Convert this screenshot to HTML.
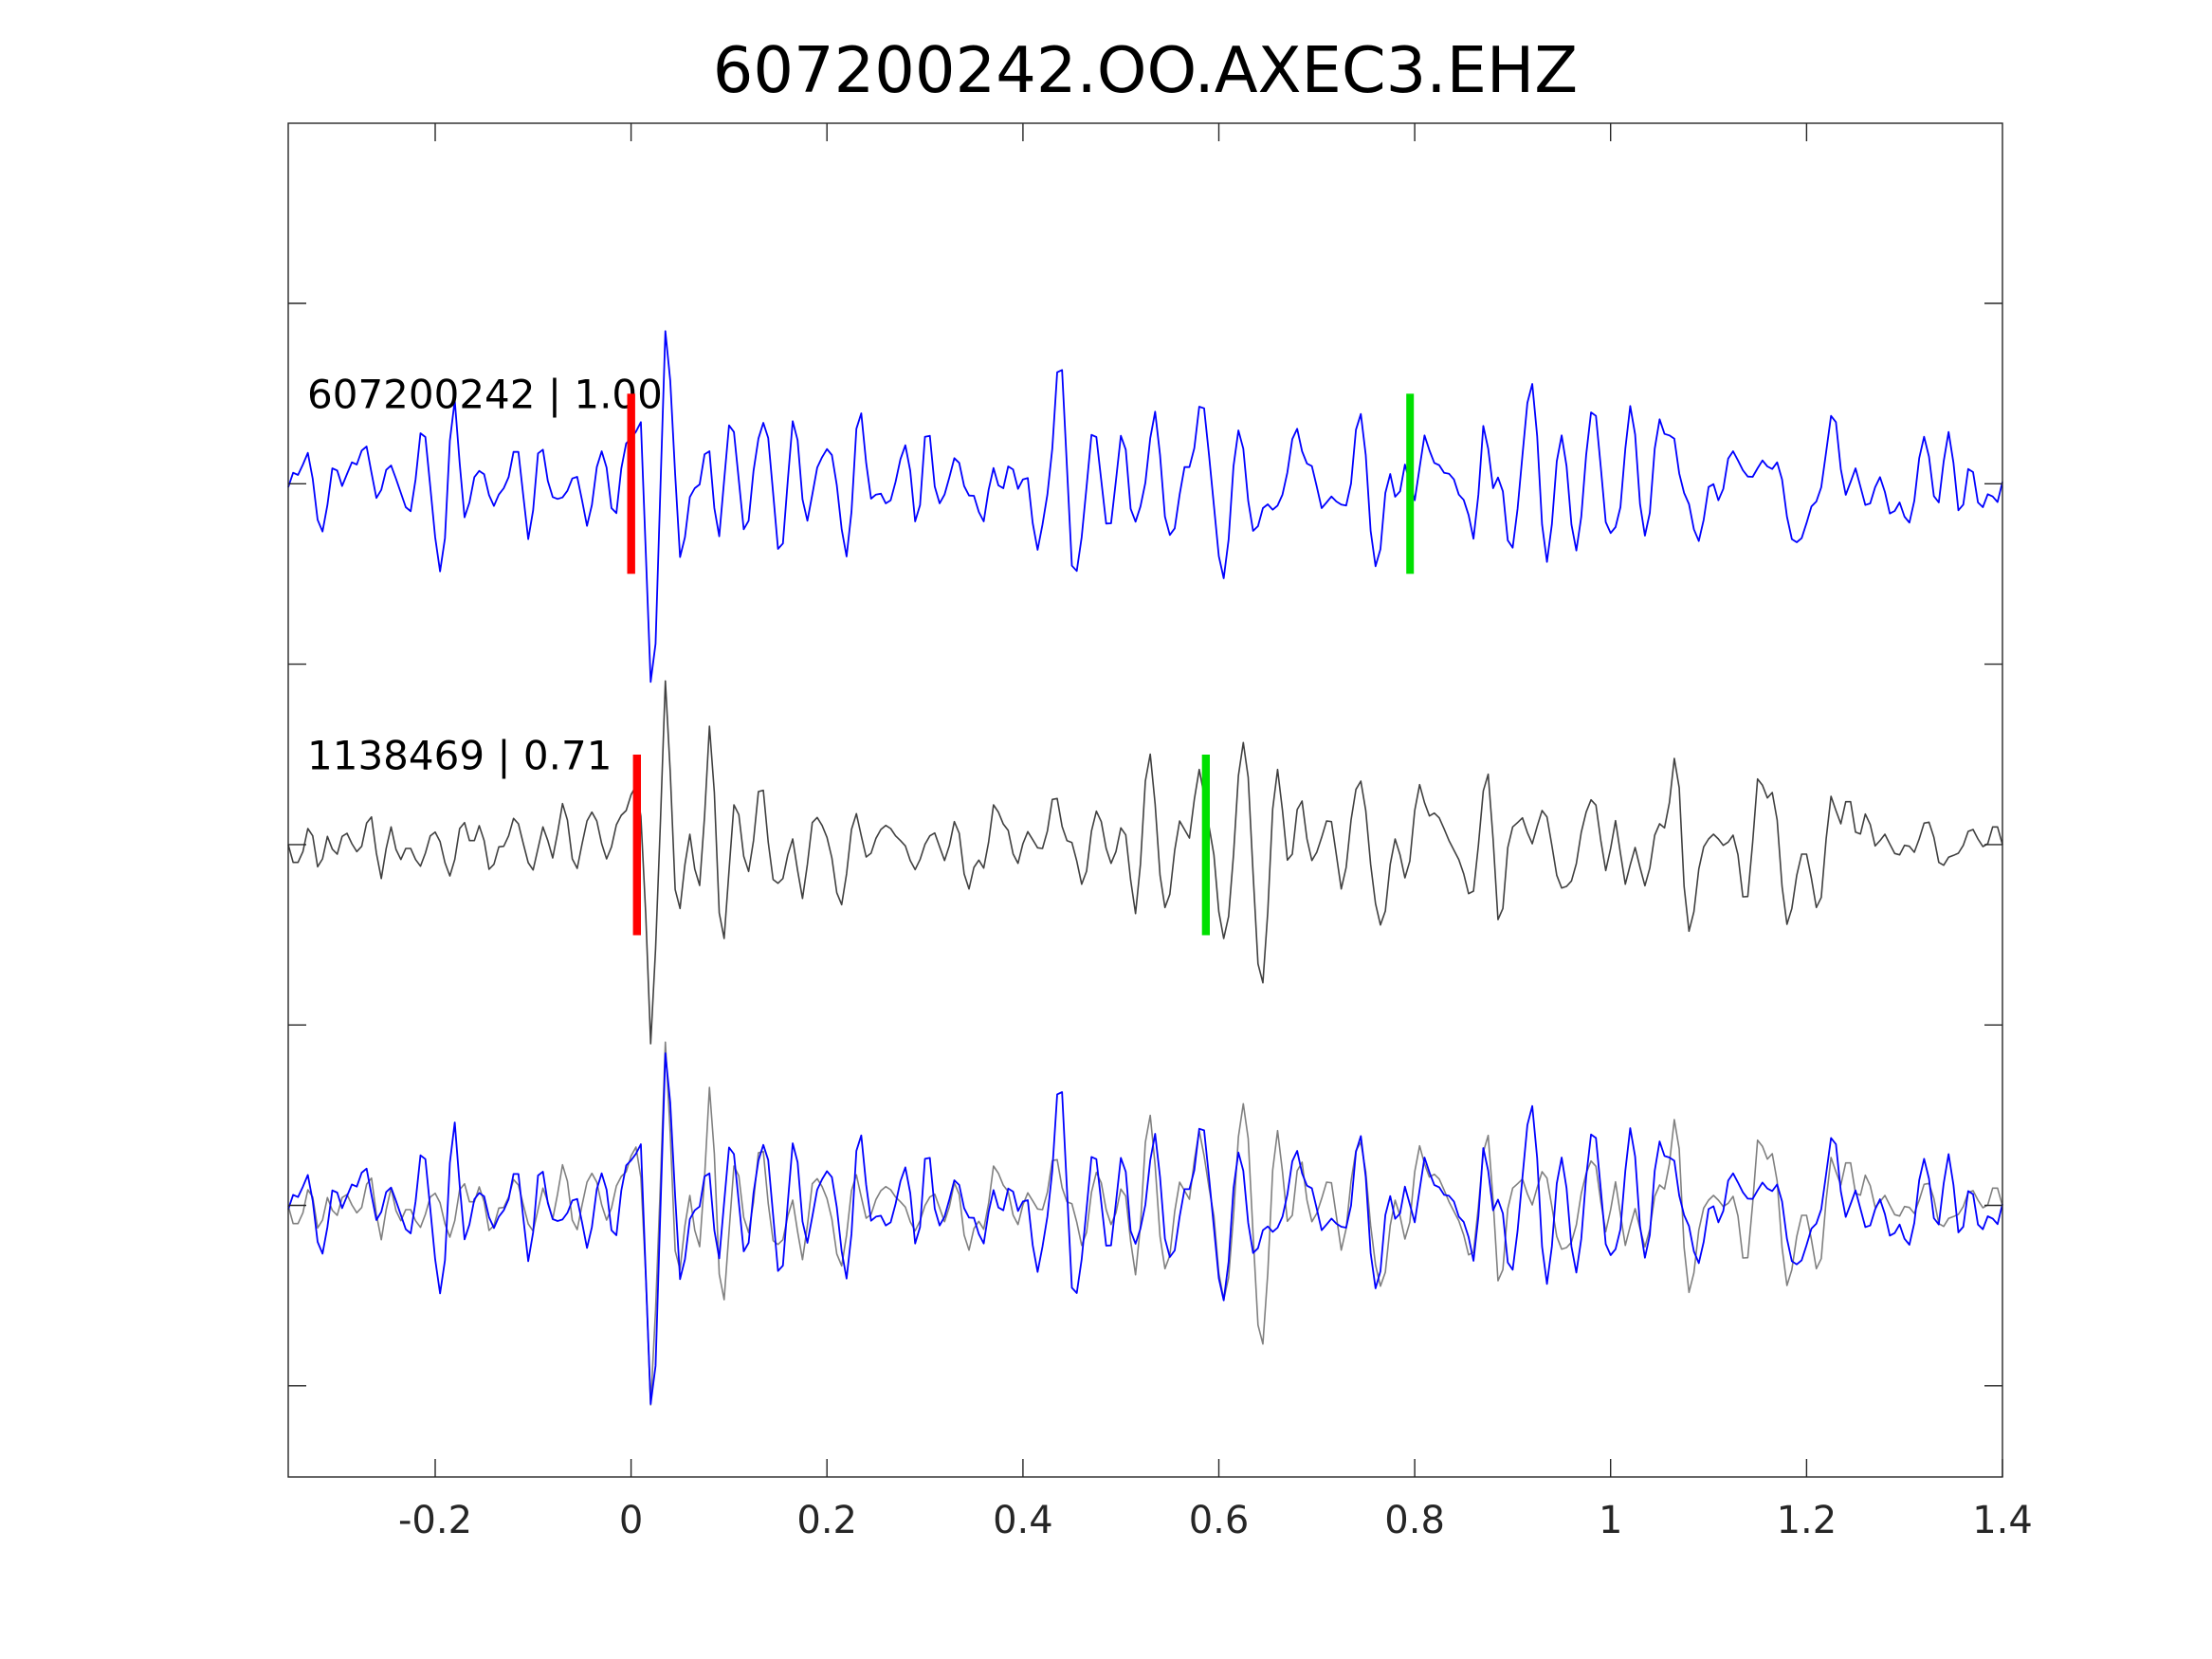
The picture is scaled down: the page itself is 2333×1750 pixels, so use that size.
<!DOCTYPE html>
<html>
<head>
<meta charset="utf-8">
<style>
html,body{margin:0;padding:0;background:#fff;}
svg{display:block;}
text{font-family:"DejaVu Sans","Liberation Sans",sans-serif;}
</style>
</head>
<body>
<svg width="2333" height="1750" viewBox="0 0 2333 1750" xmlns="http://www.w3.org/2000/svg">
<rect x="0" y="0" width="2333" height="1750" fill="#ffffff"/>
<text x="1208" y="97" font-size="67" text-anchor="middle" fill="#000">607200242.OO.AXEC3.EHZ</text>

<!-- trace 1 (blue) -->
<polyline fill="none" stroke="#0000ff" stroke-width="1.8" stroke-linejoin="round" vector-effect="non-scaling-stroke" transform="translate(304,510.3) scale(5.16571,1)" points="0,3.7 1,-11.6 2,-9.3 3,-20.3 4,-32.6 5,-5.3 6,38 7,50.4 8,22.4 9,-16.3 10,-14 11,2.4 12,-10.3 13,-22.6 14,-20.3 15,-35 16,-39.3 17,-11.6 18,15 19,6.4 20,-14.6 21,-19.3 22,-5.3 23,9.7 24,24.7 25,29 26,-4.6 27,-53.3 28,-49.3 29,3 30,56.4 31,92.4 32,57.4 33,-45.3 34,-88 35,-22 36,35.4 37,19.7 38,-7 39,-13.6 40,-10 41,12 42,23.4 43,11.4 44,4.7 45,-7 46,-33.6 47,-33.6 48,13 49,58.4 50,28 51,-32 52,-36 53,-3 54,14 55,16 56,14.4 57,7.4 58,-5.6 59,-7.3 60,17.7 61,44.4 62,22.4 63,-17.6 64,-34.3 65,-17 66,25.7 67,31 68,-16 69,-42.6 70,-48 71,-55 72,-65 73,72 74,209 75,168.7 76,3 77,-161 78,-108.6 79,-10 80,77.3 81,56.4 82,14 83,4.7 84,0.7 85,-31 86,-34.3 87,25.7 88,55.4 89,-3.6 90,-61.6 91,-54.6 92,-3.6 93,48 94,39 95,-13.6 96,-47.6 97,-64.3 98,-48.3 99,9.7 100,68.7 101,63 102,-3.6 103,-66 104,-46 105,16.4 106,39 107,11.4 108,-17 109,-28 110,-36.6 111,-30.3 112,1.4 113,48 114,76.7 115,29.7 116,-58 117,-74.3 118,-22 119,15.7 120,11.4 121,10.4 122,20.7 123,17.4 124,-2 125,-26 126,-40.6 127,-13.6 128,39.7 129,22.4 130,-49.6 131,-50.6 132,3 133,20.7 134,11.4 135,-7 136,-27 137,-22 138,2.4 139,12.4 140,12.7 141,29.7 142,39.7 143,6.4 144,-16.6 145,1.7 146,4.7 147,-18.3 148,-15 149,5.4 150,-4.6 151,-6 152,41.4 153,69.7 154,43 155,11.4 156,-37 157,-117.6 158,-120 159,-17 160,86.4 161,92 162,56.4 163,3 164,-51.6 165,-49.3 166,-3.6 167,42 168,41.7 169,-3.6 170,-50.6 171,-36 172,26.4 173,40 174,24 175,-1 176,-48 177,-76 178,-30.3 179,34.7 180,54 181,47 182,11.4 183,-17.6 184,-17.6 185,-37.6 186,-81.3 187,-79.6 188,-30.3 189,23 190,76.4 191,99.7 192,59 193,-18.6 194,-56.3 195,-37 196,18 197,49.7 198,44.7 199,25.7 200,21.7 201,27.4 202,23 203,11.4 204,-12 205,-47 206,-58 207,-34.3 208,-21.3 209,-18.6 210,3 211,25.7 212,19.7 213,13.4 214,18.7 215,22 216,23 217,-0.3 218,-57 219,-73.6 220,-30.3 221,49.7 222,87 223,69 224,9.7 225,-10.3 226,13.7 227,8 228,-20.3 229,-1.6 230,17.4 231,-17 232,-51 233,-35.3 234,-22 235,-19.6 236,-11.6 237,-10.6 238,-4.6 239,11.4 240,17 241,33 242,58 243,11.4 244,-61 245,-37 246,4.7 247,-6.6 248,8 249,59.7 250,67.4 251,26.4 252,-30.3 253,-85.3 254,-105.3 255,-50.3 256,43 257,82.4 258,43 259,-23.6 260,-51 261,-18.6 262,43 263,70.4 264,35 265,-30.3 266,-75.3 267,-71.6 268,-17 269,40.4 270,52 271,45.7 272,24.7 273,-37 274,-82 275,-52 276,21.4 277,54.7 278,30.7 279,-37 280,-68 281,-52.6 282,-51 283,-47.6 284,-11 285,9.7 286,21.4 287,48 288,60.4 289,38 290,3.4 291,0.4 292,17.4 293,5.4 294,-26.6 295,-34.3 296,-24.6 297,-14.3 298,-7.6 299,-7.3 300,-16.3 301,-24.6 302,-18.3 303,-15.6 304,-22.6 305,-4.6 306,34.7 307,58.4 308,61.7 309,57.4 310,41.4 311,24 312,18.7 313,3.7 314,-33.6 315,-71.6 316,-65 317,-15.3 318,11.7 319,-2 320,-16.3 321,3 322,22.4 323,20.7 324,3.7 325,-7 326,8.7 327,31.4 328,28.7 329,19.7 330,34.7 331,41 332,18 333,-27 334,-49.6 335,-28.6 336,13 337,19.7 338,-23.6 339,-54.6 340,-22 341,28 342,22 343,-15.6 344,-12.3 345,19.7 346,24.7 347,11 348,13.4 349,19.3 350,-2"/>

<!-- trace 2 (dark gray) -->
<polyline fill="none" stroke="#404040" stroke-width="1.6" stroke-linejoin="round" vector-effect="non-scaling-stroke" transform="translate(304,891) scale(5.16571,1)" points="0,0 1,18.7 2,18.7 3,7.3 4,-17 5,-9.3 6,23.3 7,15 8,-8.7 9,4.7 10,10 11,-8.7 12,-12 13,-1 14,7.3 15,1.7 16,-22.7 17,-29.3 18,9 19,35.7 20,4 21,-18.7 22,5 23,15.7 24,4 25,4 26,15.7 27,22.7 28,9 29,-9.3 30,-13.3 31,-3.3 32,19 33,33 34,15.7 35,-17 36,-23.3 37,-4.3 38,-4.3 39,-20 40,-4.3 41,26 42,20.7 43,2.3 44,1.7 45,-9.3 46,-27.7 47,-22 48,-1 49,19 50,26.7 51,4 52,-18.7 53,-4.3 54,14 55,-12.7 56,-43.3 57,-26 58,15 59,25 60,-1 61,-25 62,-34.3 63,-25 64,-1 65,15 66,2.3 67,-21 68,-31 69,-36 70,-52.7 71,-62 72,-30 73,74 74,210 75,110 76,-25 77,-172.7 78,-76 79,47.3 80,67.3 81,20.7 82,-11 83,25.7 84,43 85,-29.7 86,-125 87,-55 88,72 89,99 90,27.3 91,-42 92,-31.7 93,12.3 94,28.3 95,-4.3 96,-56 97,-57.3 98,-2.7 99,36.7 100,40.7 101,35.7 102,10.7 103,-6 104,27.3 105,56.7 106,20.7 107,-23.3 108,-28.7 109,-20.3 110,-7.7 111,14 112,50.7 113,63.3 114,30.7 115,-16 116,-32.7 117,-9.3 118,13 119,9 120,-6.7 121,-16 122,-20.3 123,-17 124,-9.3 125,-4.3 126,1.3 127,16.7 128,26.3 129,15.7 130,-0.3 131,-9.3 132,-12.3 133,2.3 134,16.7 135,0.7 136,-24.3 137,-12 138,30.7 139,46.7 140,24 141,16.3 142,24.7 143,-2.7 144,-42 145,-34.3 146,-21.7 147,-15 148,9.7 149,19.7 150,-1 151,-13.7 152,-5.3 153,3.3 154,4 155,-14.3 156,-47.7 157,-48.7 158,-19.3 159,-4.3 160,-2.3 161,17.3 162,41.7 163,28 164,-14.3 165,-35.3 166,-24.3 167,4 168,19.7 169,7.3 170,-17.7 171,-10.3 172,37.3 173,72.7 174,20.7 175,-67 176,-95.5 177,-42.7 178,32.3 179,66.3 180,52.3 181,5.7 182,-25 183,-16 184,-7 185,-47.7 186,-79.3 187,-52.7 188,-19.3 189,10.7 190,70.7 191,99 192,75.7 193,10.7 194,-72.7 195,-107.7 196,-71 197,30.7 198,125.7 199,145.7 200,70.7 201,-37.7 202,-79.3 203,-36 204,16.3 205,10 206,-37 207,-46 208,-6 209,16.7 210,8 211,-7.7 212,-25 213,-24.3 214,10.7 215,46.7 216,24 217,-26 218,-58.3 219,-67 220,-36 221,20.7 222,62.3 223,84.7 224,70 225,20.7 226,-6 227,10.7 228,35 229,17.3 230,-36 231,-63.3 232,-44.3 233,-30.3 234,-33.3 235,-28.3 236,-16.7 237,-4.3 238,5.7 239,15.7 240,30.7 241,51.7 242,49 243,0.7 244,-56.7 245,-74.3 246,-6 247,79 248,67.3 249,3 250,-18.7 251,-23.3 252,-28.3 253,-12.7 254,-1 255,-19.3 256,-36 257,-29.3 258,0.7 259,32.3 260,45.7 261,44 262,38.3 263,20 264,-13 265,-34.3 266,-47.3 267,-41.7 268,-4.3 269,27.3 270,4 271,-25.3 272,9 273,41.7 274,21.3 275,3 276,24 277,43.3 278,24.7 279,-10 280,-22 281,-17.7 282,-44.3 283,-91 284,-60 285,44 286,91.3 287,70.7 288,25.7 289,2.3 290,-6 291,-11 292,-6 293,0.7 294,-2.7 295,-10 296,10.7 297,55 298,54.7 299,-2.7 300,-69.3 301,-62.7 302,-49.3 303,-55 304,-26 305,44 306,84 307,67.3 308,32.3 309,10 310,10 311,35.7 312,66.3 313,55.7 314,-6 315,-51 316,-36 317,-22 318,-45.3 319,-45.3 320,-13.3 321,-11.3 322,-32.3 323,-21.3 324,1.3 325,-4.3 326,-11 327,-0.7 328,9.3 329,10.7 330,0.7 331,1.7 332,8 333,-6 334,-22.7 335,-23.7 336,-7.7 337,18.7 338,21.7 339,13.3 340,11.3 341,9 342,0.7 343,-14 344,-16 345,-6 346,2 347,-1 348,-18.7 349,-18.7 350,0"/>

<!-- trace 3 overlay: gray (trace 2) -->
<polyline fill="none" stroke="#808080" stroke-width="1.6" stroke-linejoin="round" vector-effect="non-scaling-stroke" transform="translate(304,1272) scale(5.16571,1)" points="0,0 1,18.7 2,18.7 3,7.3 4,-17 5,-9.3 6,23.3 7,15 8,-8.7 9,4.7 10,10 11,-8.7 12,-12 13,-1 14,7.3 15,1.7 16,-22.7 17,-29.3 18,9 19,35.7 20,4 21,-18.7 22,5 23,15.7 24,4 25,4 26,15.7 27,22.7 28,9 29,-9.3 30,-13.3 31,-3.3 32,19 33,33 34,15.7 35,-17 36,-23.3 37,-4.3 38,-4.3 39,-20 40,-4.3 41,26 42,20.7 43,2.3 44,1.7 45,-9.3 46,-27.7 47,-22 48,-1 49,19 50,26.7 51,4 52,-18.7 53,-4.3 54,14 55,-12.7 56,-43.3 57,-26 58,15 59,25 60,-1 61,-25 62,-34.3 63,-25 64,-1 65,15 66,2.3 67,-21 68,-31 69,-36 70,-52.7 71,-62 72,-30 73,74 74,210 75,110 76,-25 77,-172.7 78,-76 79,47.3 80,67.3 81,20.7 82,-11 83,25.7 84,43 85,-29.7 86,-125 87,-55 88,72 89,99 90,27.3 91,-42 92,-31.7 93,12.3 94,28.3 95,-4.3 96,-56 97,-57.3 98,-2.7 99,36.7 100,40.7 101,35.7 102,10.7 103,-6 104,27.3 105,56.7 106,20.7 107,-23.3 108,-28.7 109,-20.3 110,-7.7 111,14 112,50.7 113,63.3 114,30.7 115,-16 116,-32.7 117,-9.3 118,13 119,9 120,-6.7 121,-16 122,-20.3 123,-17 124,-9.3 125,-4.3 126,1.3 127,16.7 128,26.3 129,15.7 130,-0.3 131,-9.3 132,-12.3 133,2.3 134,16.7 135,0.7 136,-24.3 137,-12 138,30.7 139,46.7 140,24 141,16.3 142,24.7 143,-2.7 144,-42 145,-34.3 146,-21.7 147,-15 148,9.7 149,19.7 150,-1 151,-13.7 152,-5.3 153,3.3 154,4 155,-14.3 156,-47.7 157,-48.7 158,-19.3 159,-4.3 160,-2.3 161,17.3 162,41.7 163,28 164,-14.3 165,-35.3 166,-24.3 167,4 168,19.7 169,7.3 170,-17.7 171,-10.3 172,37.3 173,72.7 174,20.7 175,-67 176,-95.5 177,-42.7 178,32.3 179,66.3 180,52.3 181,5.7 182,-25 183,-16 184,-7 185,-47.7 186,-79.3 187,-52.7 188,-19.3 189,10.7 190,70.7 191,99 192,75.7 193,10.7 194,-72.7 195,-107.7 196,-71 197,30.7 198,125.7 199,145.7 200,70.7 201,-37.7 202,-79.3 203,-36 204,16.3 205,10 206,-37 207,-46 208,-6 209,16.7 210,8 211,-7.7 212,-25 213,-24.3 214,10.7 215,46.7 216,24 217,-26 218,-58.3 219,-67 220,-36 221,20.7 222,62.3 223,84.7 224,70 225,20.7 226,-6 227,10.7 228,35 229,17.3 230,-36 231,-63.3 232,-44.3 233,-30.3 234,-33.3 235,-28.3 236,-16.7 237,-4.3 238,5.7 239,15.7 240,30.7 241,51.7 242,49 243,0.7 244,-56.7 245,-74.3 246,-6 247,79 248,67.3 249,3 250,-18.7 251,-23.3 252,-28.3 253,-12.7 254,-1 255,-19.3 256,-36 257,-29.3 258,0.7 259,32.3 260,45.7 261,44 262,38.3 263,20 264,-13 265,-34.3 266,-47.3 267,-41.7 268,-4.3 269,27.3 270,4 271,-25.3 272,9 273,41.7 274,21.3 275,3 276,24 277,43.3 278,24.7 279,-10 280,-22 281,-17.7 282,-44.3 283,-91 284,-60 285,44 286,91.3 287,70.7 288,25.7 289,2.3 290,-6 291,-11 292,-6 293,0.7 294,-2.7 295,-10 296,10.7 297,55 298,54.7 299,-2.7 300,-69.3 301,-62.7 302,-49.3 303,-55 304,-26 305,44 306,84 307,67.3 308,32.3 309,10 310,10 311,35.7 312,66.3 313,55.7 314,-6 315,-51 316,-36 317,-22 318,-45.3 319,-45.3 320,-13.3 321,-11.3 322,-32.3 323,-21.3 324,1.3 325,-4.3 326,-11 327,-0.7 328,9.3 329,10.7 330,0.7 331,1.7 332,8 333,-6 334,-22.7 335,-23.7 336,-7.7 337,18.7 338,21.7 339,13.3 340,11.3 341,9 342,0.7 343,-14 344,-16 345,-6 346,2 347,-1 348,-18.7 349,-18.7 350,0"/>

<!-- trace 3 overlay: blue (trace 1) -->
<polyline fill="none" stroke="#0000ff" stroke-width="1.8" stroke-linejoin="round" vector-effect="non-scaling-stroke" transform="translate(304,1272) scale(5.16571,1)" points="0,3.7 1,-11.6 2,-9.3 3,-20.3 4,-32.6 5,-5.3 6,38 7,50.4 8,22.4 9,-16.3 10,-14 11,2.4 12,-10.3 13,-22.6 14,-20.3 15,-35 16,-39.3 17,-11.6 18,15 19,6.4 20,-14.6 21,-19.3 22,-5.3 23,9.7 24,24.7 25,29 26,-4.6 27,-53.3 28,-49.3 29,3 30,56.4 31,92.4 32,57.4 33,-45.3 34,-88 35,-22 36,35.4 37,19.7 38,-7 39,-13.6 40,-10 41,12 42,23.4 43,11.4 44,4.7 45,-7 46,-33.6 47,-33.6 48,13 49,58.4 50,28 51,-32 52,-36 53,-3 54,14 55,16 56,14.4 57,7.4 58,-5.6 59,-7.3 60,17.7 61,44.4 62,22.4 63,-17.6 64,-34.3 65,-17 66,25.7 67,31 68,-16 69,-42.6 70,-48 71,-55 72,-65 73,72 74,209 75,168.7 76,3 77,-161 78,-108.6 79,-10 80,77.3 81,56.4 82,14 83,4.7 84,0.7 85,-31 86,-34.3 87,25.7 88,55.4 89,-3.6 90,-61.6 91,-54.6 92,-3.6 93,48 94,39 95,-13.6 96,-47.6 97,-64.3 98,-48.3 99,9.7 100,68.7 101,63 102,-3.6 103,-66 104,-46 105,16.4 106,39 107,11.4 108,-17 109,-28 110,-36.6 111,-30.3 112,1.4 113,48 114,76.7 115,29.7 116,-58 117,-74.3 118,-22 119,15.7 120,11.4 121,10.4 122,20.7 123,17.4 124,-2 125,-26 126,-40.6 127,-13.6 128,39.7 129,22.4 130,-49.6 131,-50.6 132,3 133,20.7 134,11.4 135,-7 136,-27 137,-22 138,2.4 139,12.4 140,12.7 141,29.7 142,39.7 143,6.4 144,-16.6 145,1.7 146,4.7 147,-18.3 148,-15 149,5.4 150,-4.6 151,-6 152,41.4 153,69.7 154,43 155,11.4 156,-37 157,-117.6 158,-120 159,-17 160,86.4 161,92 162,56.4 163,3 164,-51.6 165,-49.3 166,-3.6 167,42 168,41.7 169,-3.6 170,-50.6 171,-36 172,26.4 173,40 174,24 175,-1 176,-48 177,-76 178,-30.3 179,34.7 180,54 181,47 182,11.4 183,-17.6 184,-17.6 185,-37.6 186,-81.3 187,-79.6 188,-30.3 189,23 190,76.4 191,99.7 192,59 193,-18.6 194,-56.3 195,-37 196,18 197,49.7 198,44.7 199,25.7 200,21.7 201,27.4 202,23 203,11.4 204,-12 205,-47 206,-58 207,-34.3 208,-21.3 209,-18.6 210,3 211,25.7 212,19.7 213,13.4 214,18.7 215,22 216,23 217,-0.3 218,-57 219,-73.6 220,-30.3 221,49.7 222,87 223,69 224,9.7 225,-10.3 226,13.7 227,8 228,-20.3 229,-1.6 230,17.4 231,-17 232,-51 233,-35.3 234,-22 235,-19.6 236,-11.6 237,-10.6 238,-4.6 239,11.4 240,17 241,33 242,58 243,11.4 244,-61 245,-37 246,4.7 247,-6.6 248,8 249,59.7 250,67.4 251,26.4 252,-30.3 253,-85.3 254,-105.3 255,-50.3 256,43 257,82.4 258,43 259,-23.6 260,-51 261,-18.6 262,43 263,70.4 264,35 265,-30.3 266,-75.3 267,-71.6 268,-17 269,40.4 270,52 271,45.7 272,24.7 273,-37 274,-82 275,-52 276,21.4 277,54.7 278,30.7 279,-37 280,-68 281,-52.6 282,-51 283,-47.6 284,-11 285,9.7 286,21.4 287,48 288,60.4 289,38 290,3.4 291,0.4 292,17.4 293,5.4 294,-26.6 295,-34.3 296,-24.6 297,-14.3 298,-7.6 299,-7.3 300,-16.3 301,-24.6 302,-18.3 303,-15.6 304,-22.6 305,-4.6 306,34.7 307,58.4 308,61.7 309,57.4 310,41.4 311,24 312,18.7 313,3.7 314,-33.6 315,-71.6 316,-65 317,-15.3 318,11.7 319,-2 320,-16.3 321,3 322,22.4 323,20.7 324,3.7 325,-7 326,8.7 327,31.4 328,28.7 329,19.7 330,34.7 331,41 332,18 333,-27 334,-49.6 335,-28.6 336,13 337,19.7 338,-23.6 339,-54.6 340,-22 341,28 342,22 343,-15.6 344,-12.3 345,19.7 346,24.7 347,11 348,13.4 349,19.3 350,-2"/>

<!-- labels -->
<text x="324" y="430.5" font-size="42" fill="#000">607200242 | 1.00</text>
<text x="324" y="811.5" font-size="42" fill="#000">1138469 | 0.71</text>

<!-- pick bars -->
<rect x="661.5" y="415.3" width="8.4" height="190" fill="#ff0000"/>
<rect x="1483.2" y="415.3" width="8" height="190" fill="#00e000"/>
<rect x="667.6" y="796" width="8.4" height="190.5" fill="#ff0000"/>
<rect x="1267.7" y="796" width="8.3" height="190.5" fill="#00e000"/>

<!-- axes box and ticks -->
<g stroke="#262626" stroke-width="1.4" fill="none">
<rect x="304" y="130" width="1808" height="1428"/>
<path d="M459,1558V1539 M665.6,1558V1539 M872.2,1558V1539 M1078.9,1558V1539 M1285.5,1558V1539 M1492.1,1558V1539 M1698.7,1558V1539 M1905.4,1558V1539 M2112,1558V1539
M459,130V149 M665.6,130V149 M872.2,130V149 M1078.9,130V149 M1285.5,130V149 M1492.1,130V149 M1698.7,130V149 M1905.4,130V149
M304,320H323 M304,510.3H323 M304,700.6H323 M304,890.9H323 M304,1081.2H323 M304,1271.5H323 M304,1461.8H323
M2112,320H2093 M2112,510.3H2093 M2112,700.6H2093 M2112,890.9H2093 M2112,1081.2H2093 M2112,1271.5H2093 M2112,1461.8H2093"/>
</g>

<g font-size="40" fill="#262626" text-anchor="middle">
<text x="459" y="1617">-0.2</text>
<text x="665.6" y="1617">0</text>
<text x="872.2" y="1617">0.2</text>
<text x="1078.9" y="1617">0.4</text>
<text x="1285.5" y="1617">0.6</text>
<text x="1492.1" y="1617">0.8</text>
<text x="1698.7" y="1617">1</text>
<text x="1905.4" y="1617">1.2</text>
<text x="2112" y="1617">1.4</text>
</g>
</svg>
</body>
</html>
